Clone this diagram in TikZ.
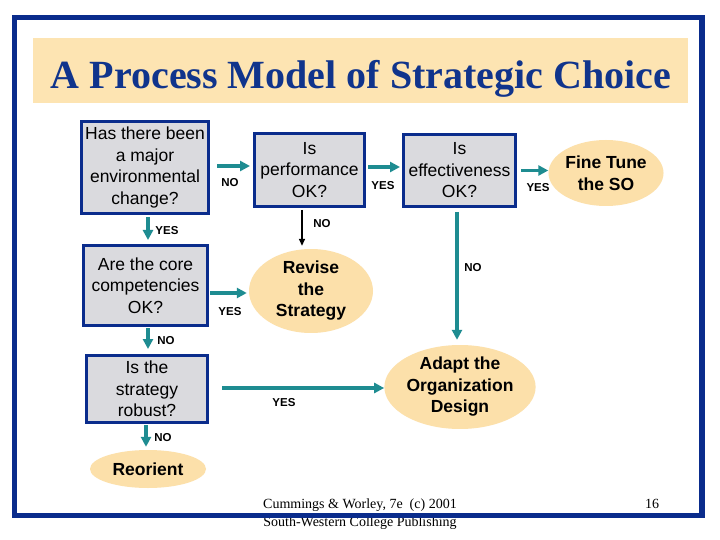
\documentclass[tikz,border=0pt]{standalone}
\usepackage{fontspec}
\setmainfont{Liberation Serif}
\newfontfamily\arialf{Liberation Sans}
\usetikzlibrary{arrows.meta,shapes.geometric,calc}
\definecolor{frameblue}{RGB}{10,44,140}
\definecolor{titleblue}{RGB}{16,52,140}
\definecolor{bandpeach}{RGB}{253,228,178}
\definecolor{ellpeach}{RGB}{252,224,170}
\definecolor{boxgray}{RGB}{218,218,222}
\definecolor{arrteal}{RGB}{30,140,145}
\begin{document}
\begin{tikzpicture}[x=1pt,y=-1pt,
  qbox/.style={draw=frameblue, line width=3pt, fill=boxgray, align=center, inner sep=0pt,
    font=\arialf\fontsize{17.5}{21.5}\selectfont},
  oval/.style={ellipse, fill=ellpeach, align=center, inner sep=0pt,
    font=\arialf\bfseries\fontsize{17.5}{21.5}\selectfont},
  lbl/.style={font=\arialf\bfseries\fontsize{11.5}{13}\selectfont, inner sep=0pt},
  arr/.style={draw=arrteal, line width=3.5pt, -{Triangle[length=10pt,width=10pt]}},
  blackarr/.style={draw=black, line width=1.5pt, -{Triangle[length=7pt,width=6pt]}}
]
\useasboundingbox (0,0) rectangle (720,540);
\fill[white] (0,0) rectangle (720,540);

% title band
\node[fill=bandpeach, minimum width=655pt, minimum height=65pt, inner sep=0pt] (band) at (360.5,70.5) {};
\node[anchor=base, text=titleblue, font=\bfseries\fontsize{40}{44}\selectfont, inner sep=0pt] (title) at (361,89) {A Process Model of Strategic Choice};

% decision boxes
\node[qbox, minimum width=127pt, minimum height=92pt] (q1) at (145,167.5) {Has there been\\a major\\environmental\\change?};
\node[qbox, minimum width=110pt, minimum height=73pt] (q2) at (309.5,170) {Is\\performance\\OK?};
\node[qbox, minimum width=112pt, minimum height=72pt] (q3) at (459.5,170.5) {Is\\effectiveness\\OK?};
\node[qbox, minimum width=124pt, minimum height=80pt] (q4) at (145.5,285.5) {Are the core\\competencies\\OK?};
\node[qbox, minimum width=121pt, minimum height=67pt] (q5) at (147,389) {Is the\\strategy\\robust?};

% outcome ovals
\node[oval, minimum width=108pt, minimum height=66pt] (fine) at (606,173) {Fine Tune\\the SO};
\node[oval, minimum width=124pt, minimum height=80pt] (revise) at (311,291) {Revise\\the\\Strategy};
\node[oval, minimum width=136pt, minimum height=78pt] (adapt) at (460,387) {Adapt the\\Organization\\Design};
\node[oval, minimum width=116pt, minimum height=38pt] (reorient) at (148,469) {Reorient};

% connectors
\draw[arr] ($(q1.east)+(7,-1.5)$) -- ($(q1.east -| q2.west)+(-3,-1.5)$);
\draw[arr] ($(q2.east)+(2,-3)$) -- ($(q2.east -| q3.west)+(-2,-3)$);
\draw[arr] ($(q3.east)+(4,0)$) -- ($(q3.east -| fine.west)+(0,0)$);
\draw[blackarr] ($(q2.south)+(-7.5,2)$) -- ($(q2.south |- revise.north)+(-7.5,-3)$);
\draw[arr] ($(q1.south)+(3,2)$) -- ($(q1.south |- q4.north)+(3,-4)$);
\draw[arr] ($(q4.east)+(1,7.5)$) -- ($(q4.east -| revise.west)+(-2,7.5)$);
\draw[arr] ($(q4.south)+(2.5,1)$) -- ($(q4.south |- q5.north)+(2.5,-5)$);
\draw[arr] ($(q5.east)+(13,-1)$) -- ($(q5.east -| adapt.west)+(0,-1)$);
\draw[arr] ($(q3.south)+(-2.5,4)$) -- ($(q3.south |- adapt.north)+(-2.5,-5)$);
\draw[arr] ($(q5.south)+(-1,1)$) -- ($(q5.south |- reorient.north)+(-1,-3)$);

% connector labels
\node[lbl] (l1) at (230,183) {NO};
\node[lbl] (l2) at (383,186) {YES};
\node[lbl] (l3) at (538,188) {YES};
\node[lbl] (l4) at (322,224) {NO};
\node[lbl] (l5) at (167,231) {YES};
\node[lbl] (l6) at (230,312) {YES};
\node[lbl] (l7) at (166,341) {NO};
\node[lbl] (l8) at (284,403) {YES};
\node[lbl] (l9) at (473,268) {NO};
\node[lbl] (l10) at (163,438) {NO};

% footer
\node[align=center, font=\fontsize{14}{18}\selectfont, inner sep=0pt] (foot) at (360,514) {Cummings \& Worley, 7e\ \ (c) 2001\\South-Western College Publishing};
\node[font=\fontsize{14}{18}\selectfont, inner sep=0pt] (page) at (652,504) {16};

% outer frame
\draw[frameblue, line width=5.5pt] (14.5,17.5) rectangle (702,515.5);
\end{tikzpicture}
\end{document}
